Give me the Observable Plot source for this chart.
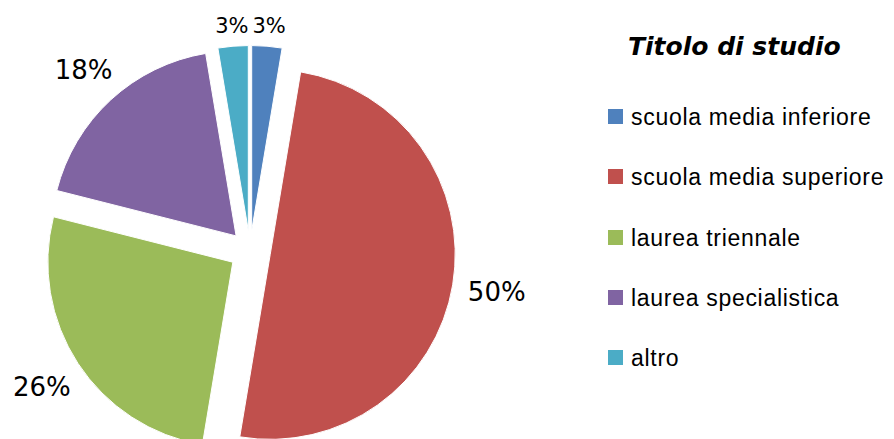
<!DOCTYPE html>
<html><head><meta charset="utf-8">
<script src="https://cdn.jsdelivr.net/npm/d3@7"></script>
<script src="https://cdn.jsdelivr.net/npm/@observablehq/plot@0.6"></script>
<style>
body{margin:0;background:#fff;}
#wrap{position:relative;width:894px;height:439px;overflow:hidden;}
#legend{position:absolute;left:0;top:0;width:894px;height:439px;pointer-events:none;}
.lt{position:absolute;left:628px;top:34px;font:italic bold 25px/25px "DejaVu Sans",sans-serif;color:#000;white-space:nowrap;}
.sw{position:absolute;left:608px;width:15px;height:15px;}
.lx{position:absolute;left:631px;font:23px/23px "Liberation Sans",Arial,sans-serif;color:#000;white-space:nowrap;letter-spacing:0.7px;}
</style></head><body><div id="wrap"><div id="legend"></div></div>
<script>
// ---- data ----
const categories = ["scuola media inferiore","scuola media superiore","laurea triennale","laurea specialistica","altro"];
const counts = [1, 19, 10, 7, 1];
const pctLabels = ["3%","50%","26%","18%","3%"];
const colors = ["#4F81BD","#C0504D","#9BBB59","#8064A2","#4BACC6"];
const legendTitle = "Titolo di studio";

// ---- layout ----
const W = 894, H = 439;
const cxPx = 250, cyPx = 251, rPx = 185, explodePx = 20.5;
const xDomain = [-cxPx / rPx, (W - cxPx) / rPx];
const yDomain = [-(H - cyPx) / rPx, cyPx / rPx];
const explode = explodePx / rPx;

const arcs = d3.pie().sort(null).startAngle(0).endAngle(2 * Math.PI)(counts);
const slices = arcs.map((a, i) => {
  const mid = (a.startAngle + a.endAngle) / 2;
  const small = counts[i] / d3.sum(counts) < 0.05;
  const fs = small ? 21 : 26;
  const gap = small ? 11 : 14;
  const w = pctLabels[i].length === 2 ? 1.586 * fs : 2.222 * fs;
  const h = small ? 16 : 20;
  const distPx = rPx + explodePx + gap + Math.abs(Math.sin(mid)) * w / 2 + Math.abs(Math.cos(mid)) * h / 2;
  return {
    cat: categories[i], color: colors[i], label: pctLabels[i], fs,
    start: a.startAngle, end: a.endAngle, mid,
    ox: explode * Math.sin(mid), oy: explode * Math.cos(mid),
    lx: distPx / rPx * Math.sin(mid), ly: distPx / rPx * Math.cos(mid)
  };
});

const pieMark = (index, scales) => {
  const g = d3.create("svg:g");
  const rpx = scales.x(1) - scales.x(0);
  const arc = d3.arc().innerRadius(0).outerRadius(rpx);
  for (const s of slices) {
    g.append("path")
      .attr("transform", `translate(${scales.x(s.ox)},${scales.y(s.oy)})`)
      .attr("d", arc({startAngle: s.start, endAngle: s.end}))
      .attr("fill", s.color)
      .attr("stroke", "#fff")
      .attr("stroke-width", 1);
  }
  return g.node();
};

const chart = Plot.plot({
  width: W, height: H,
  margin: 0,
  x: {domain: xDomain, range: [0, W], axis: null},
  y: {domain: yDomain, range: [H, 0], axis: null},
  style: {background: "#fff"},
  marks: [
    pieMark,
    Plot.text(slices, {
      x: "lx", y: "ly", text: "label", fontSize: "fs",
      fill: "#000", fontFamily: "DejaVu Sans", textAnchor: "middle"
    })
  ]
});
document.getElementById("wrap").prepend(chart);

// ---- legend ----
const lg = d3.select("#legend");
lg.append("div").attr("class", "lt").text(legendTitle);
const rowY = [116, 176, 237, 297, 357];
categories.forEach((c, i) => {
  lg.append("div").attr("class", "sw").style("top", (rowY[i] - 7.5) + "px").style("background", colors[i]);
  lg.append("div").attr("class", "lx").style("top", (rowY[i] - 10.3) + "px").text(c);
});
</script></body></html>
